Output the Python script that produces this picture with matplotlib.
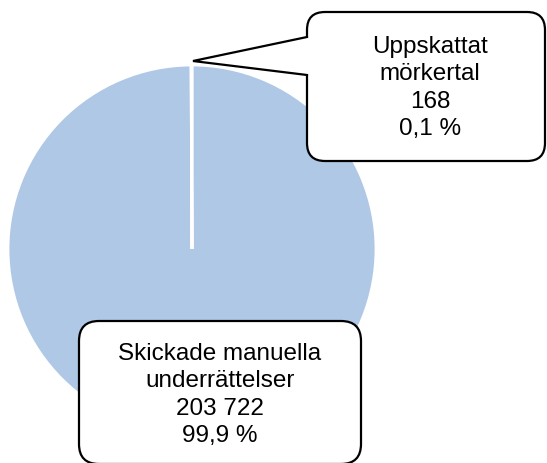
import matplotlib.pyplot as plt
from matplotlib.patches import FancyBboxPatch, Polygon

# Data
labels = ["Skickade manuella\nunderrättelser", "Uppskattat\nmörkertal"]
values = [203722, 168]
colors = ["#AFC8E6", "#AFC8E6"]

total = sum(values)

def fmt_num(v):
    return f"{v:,}".replace(",", " ")

def fmt_pct(v):
    return f"{v / total * 100:.1f}".replace(".", ",") + " %"

plt.rcParams['font.family'] = ['Liberation Sans', 'DejaVu Sans']

fig = plt.figure(figsize=(5.47, 4.64), dpi=100)
ax = fig.add_axes([0, 0, 1, 1])

# pie in pixel coordinates (y axis inverted)
ax.pie(values, colors=colors, center=(192, 250), radius=184,
       startangle=-90, counterclock=True,
       wedgeprops=dict(edgecolor="white", linewidth=2.0))
ax.set_xlim(0, 547)
ax.set_ylim(464, 0)
ax.set_aspect("equal", adjustable="box")
ax.axis("off")

# callout for the small slice
box1 = FancyBboxPatch((307, 13), 238, 149, boxstyle="round,pad=0,rounding_size=18",
                      facecolor="white", edgecolor="black", linewidth=1.6, zorder=5)
ax.add_patch(box1)
tip = (193, 62)
ax.add_patch(Polygon([tip, (307, 38), (311, 38), (311, 76), (307, 76)],
                     closed=True, facecolor="white", edgecolor="none", zorder=6))
ax.plot([307, tip[0], 307], [38, tip[1], 76], color="black", lw=1.6, zorder=7,
        solid_joinstyle="miter")
ax.text(430, 88, f"{labels[1]}\n{fmt_num(values[1])}\n{fmt_pct(values[1])}",
        ha="center", va="center", fontsize=17.5, linespacing=1.33, zorder=8)

# label for the big slice
box2 = FancyBboxPatch((79, 322), 282, 143, boxstyle="round,pad=0,rounding_size=20",
                      facecolor="white", edgecolor="black", linewidth=1.6, zorder=5)
ax.add_patch(box2)
ax.text(220, 395, f"{labels[0]}\n{fmt_num(values[0])}\n{fmt_pct(values[0])}",
        ha="center", va="center", fontsize=17.5, linespacing=1.33, zorder=8)

fig.savefig("out.png", dpi=100)
